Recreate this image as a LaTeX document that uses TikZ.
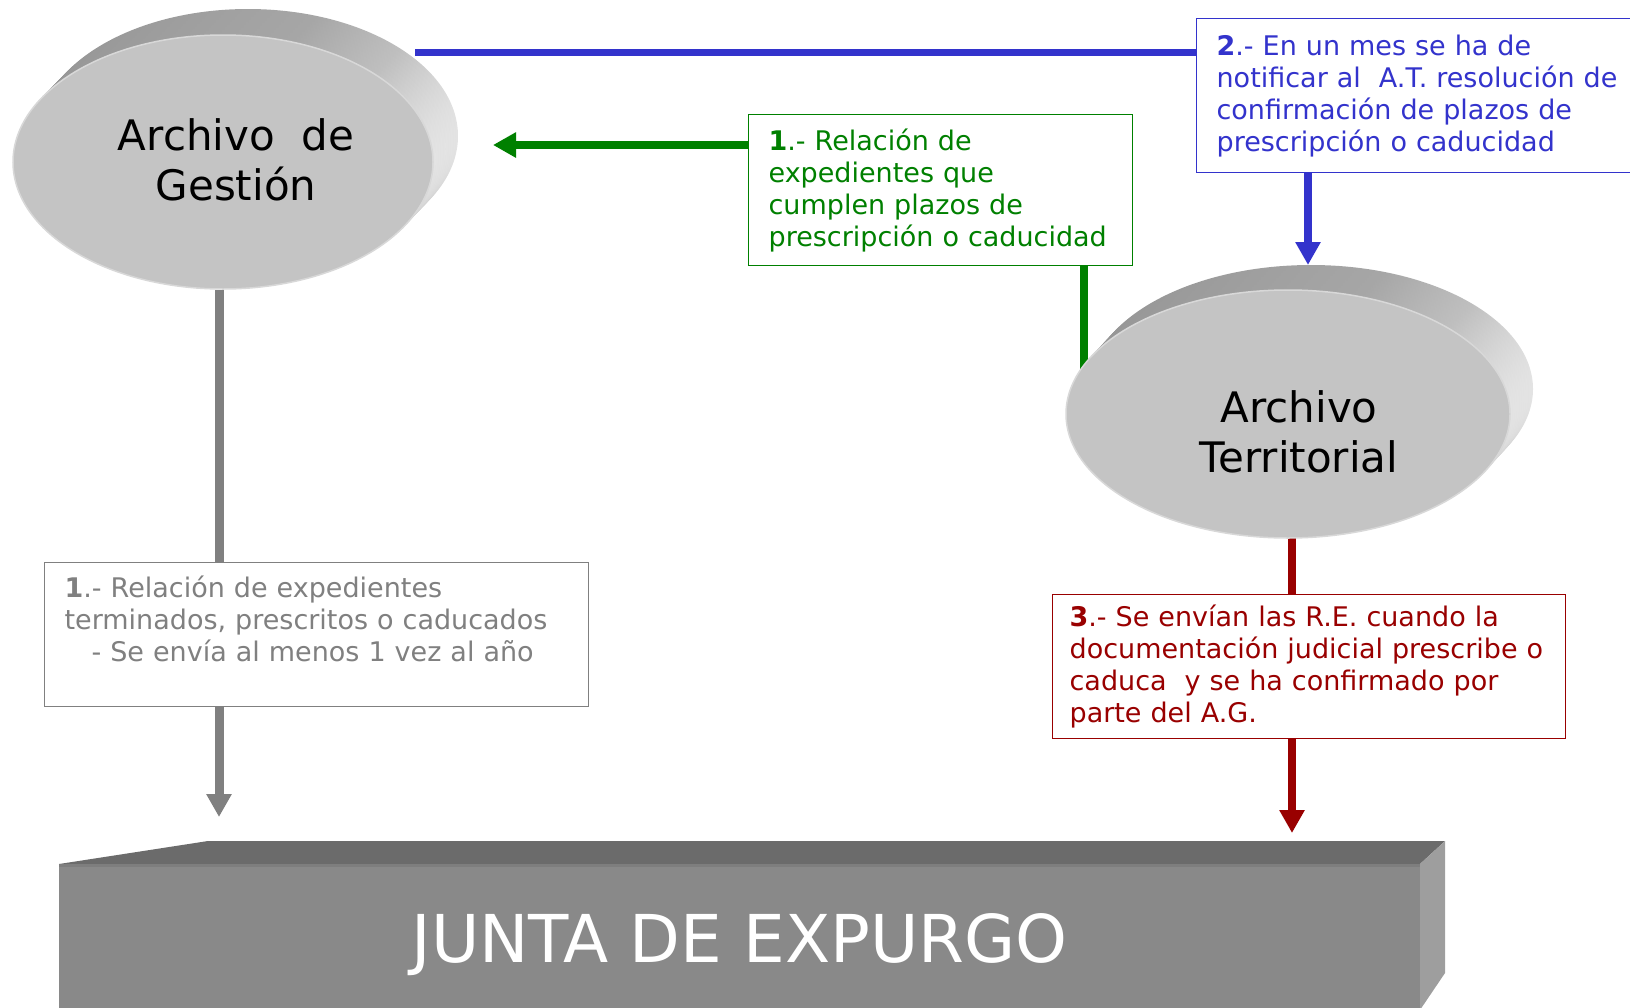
\documentclass[tikz,border=0pt]{standalone}
\usepackage{fontspec}
\setmainfont{DejaVu Sans}
\usetikzlibrary{shapes.geometric, arrows.meta, calc}

\definecolor{notifblue}{HTML}{3333CC}
\definecolor{relgreen}{HTML}{008000}
\definecolor{relgray}{HTML}{808080}
\definecolor{envred}{HTML}{990000}
\definecolor{discface}{HTML}{C4C4C4}
\definecolor{discrim}{HTML}{D8D8D8}
\definecolor{sidedark}{HTML}{959595}
\definecolor{sidemid}{HTML}{A6A6A6}
\definecolor{sidelight}{HTML}{E4E4E4}
\definecolor{blockfront}{HTML}{898989}
\definecolor{blocktop}{HTML}{6B6B6B}
\definecolor{blockside}{HTML}{9E9E9E}
\definecolor{blockedge}{HTML}{7E7E7E}

\pgfdeclarehorizontalshading{discside}{100bp}{
		color(0bp)=(sidedark); color(25bp)=(sidedark); color(58bp)=(sidemid);
		color(68bp)=(sidemid!60!sidelight); color(75bp)=(sidelight); color(100bp)=(sidelight)}

\tikzstyle{archive} = [
		ellipse,
		minimum width = 420pt,
		minimum height = 254pt,
		fill = discface,
		draw = discrim,
		line width = 1.5pt,
		inner sep = 0pt
	]
\tikzstyle{archive side} = [
		shading = discside
	]
\tikzstyle{archive name} = [
		font = \fontsize{42}{50}\selectfont,
		align = center
	]
\tikzstyle{note} = [
		rectangle,
		fill = white,
		line width = 1.2pt,
		inner xsep = 20pt,
		align = left,
		anchor = north west,
		font = \fontsize{27}{32}\selectfont
	]
\tikzstyle{block} = [
		rectangle,
		fill = blockfront,
		text = white,
		minimum width = 1361pt,
		minimum height = 162pt,
		font = \fontsize{66}{70}\selectfont
	]
\tikzstyle{link} = [line width = 8pt]
\tikzstyle{tip} = [-{Triangle[length = 23pt, width = 24pt]}]

\begin{document}
\begin{tikzpicture}[x = 1pt, y = -1pt]

	\useasboundingbox (0,0) rectangle (1630,1007);
	\clip (0,0) rectangle (1630,1007);

	%------------------------------Places------------------------------
	\coordinate (gestion c) at (223,162);
	\coordinate (territorial c) at (1288,414);
	\coordinate (notif start) at (415,52);
	\coordinate (territorial top) at (1308,265);
	\coordinate (relat end) at (1084,380);
	\coordinate (gestion tip) at (493,145);
	\coordinate (gestion foot) at (219,290);
	\coordinate (junta gray tip) at (219,817);
	\coordinate (territorial foot) at (1292,530);
	\coordinate (junta red tip) at (1292,833);

	%------------------------------Notes------------------------------
	\node [note, draw = notifblue, text = notifblue, text width = 440pt, minimum height = 154pt] (notif) at (1196,18)
		{\textbf{2}.- En un mes se ha de\\notificar al\ \ A.T. resolución de\\confirmación de plazos de\\prescripción o caducidad};
	\node [note, draw = relgreen, text = relgreen, text width = 344pt, minimum height = 151pt] (relat) at (748,114)
		{\textbf{1}.- Relación de\\expedientes que\\cumplen plazos de\\prescripción o caducidad};
	\node [note, draw = relgray, text = relgray, text width = 504pt, minimum height = 144pt] (relag) at (44,562)
		{\textbf{1}.- Relación de expedientes\\terminados, prescritos o caducados\\\hspace*{27pt}- Se envía al menos 1 vez al año\\~};
	\node [note, draw = envred, text = envred, inner xsep = 17pt, text width = 479pt, minimum height = 144pt] (envio) at (1052,594)
		{\textbf{3}.- Se envían las R.E. cuando la\\documentación judicial prescribe o\\caduca\ \ y se ha confirmado por\\parte del A.G.};

	%------------------------------Links------------------------------
	\draw [link, notifblue, line width = 7pt] (notif start) -- (notif start -| notif.west);
	\draw [link, notifblue, tip] (notif.south -| territorial top) -- (territorial top);
	\draw [link, relgreen] (relat end |- relat.south) -- (relat end);
	\draw [link, relgreen, tip] (relat.west |- gestion tip) -- (gestion tip);
	\draw [link, relgray, line width = 9pt] (gestion foot) -- (gestion foot |- relag.north);
	\draw [link, relgray, line width = 9pt, tip] (gestion foot |- relag.south) -- (junta gray tip);
	\draw [link, envred] (territorial foot) -- (territorial foot |- envio.north);
	\draw [link, envred, tip] (territorial foot |- envio.south) -- (junta red tip);

	%------------------------------Archives------------------------------
	\foreach \s in {10,...,1}
		\shade [archive side] ($(gestion c)+(2.5*\s,-2.6*\s)$) ellipse [x radius = 210, y radius = 127];
	\node [archive] (gestion) at (gestion c) {};
	\node [archive name] (gestion name) at ($(gestion)+(13,-2)$) {Archivo\ \ de\\Gestión};

	\foreach \s in {10,...,1}
		\shade [archive side] ($(territorial c)+(2.3*\s,-2.5*\s)$) ellipse [x radius = 222, y radius = 124];
	\node [archive, minimum width = 444pt, minimum height = 248pt] (territorial) at (territorial c) {};
	\node [archive name] (territorial name) at ($(territorial)+(11,18)$) {Archivo\\Territorial};

	%------------------------------Junta------------------------------
	\fill [blocktop] (59,864) -- (208,841) -- (1445,841) -- (1420,864) -- cycle;
	\fill [blockside] (1420,864) -- (1445,841) -- (1445,973) -- (1420,1010) -- cycle;
	\node [block] (junta) at (739.5,945) {JUNTA DE EXPURGO};
	\draw [blockedge, line width = 3pt] ([yshift = -1.5pt]junta.north west) -- ([yshift = -1.5pt]junta.north east);

\end{tikzpicture}
\end{document}
